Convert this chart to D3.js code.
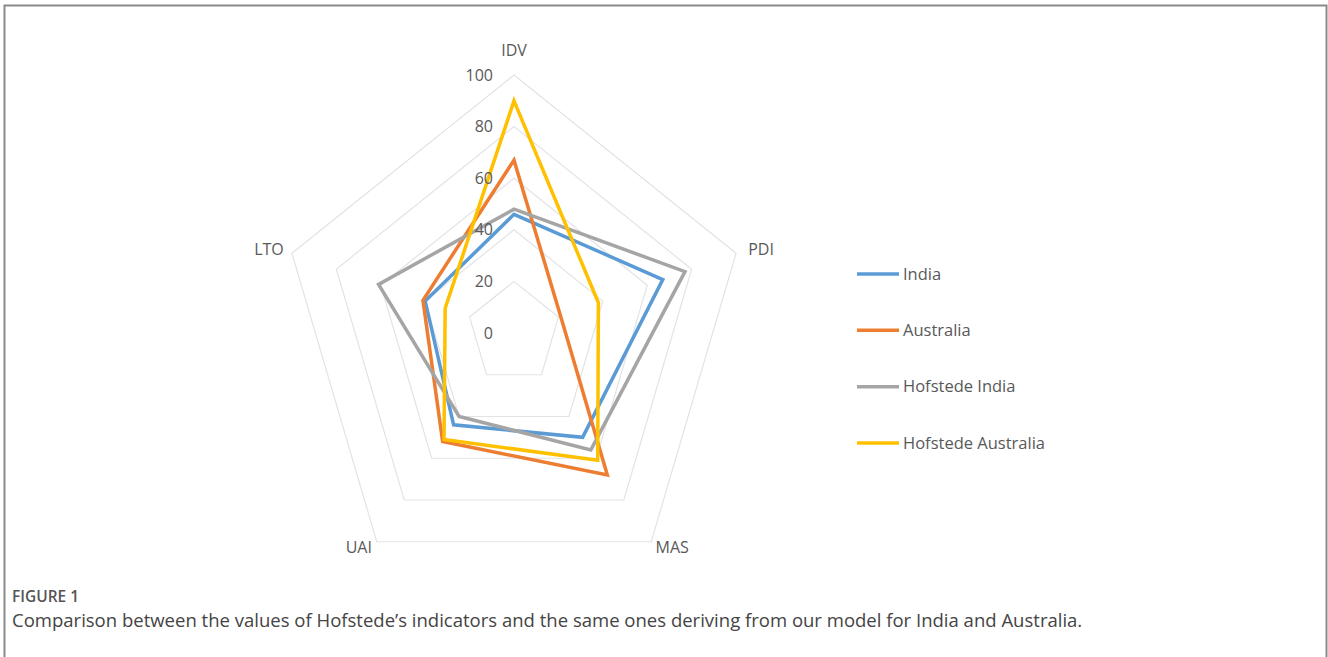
<!DOCTYPE html>
<html>
<head>
<meta charset="utf-8">
<script src="https://cdn.jsdelivr.net/npm/d3@7"></script>
<style>
  html, body { margin: 0; padding: 0; background: #fff; }
  svg { display: block; }
  text { font-family: "Open Sans", "Noto Sans", sans-serif; }
</style>
</head>
<body>
<svg id="chart" width="1328" height="657"></svg>
<script>
// ---- data ----
const axes = ["IDV", "PDI", "MAS", "UAI", "LTO"];
const seriesNames = ["India", "Australia", "Hofstede India", "Hofstede Australia"];
const india = [46, 67, 50, 44, 40];
const australia = [67, 21, 68, 52, 41];
const hofstedeIndia = [48, 77, 56, 40, 61];
const hofstedeAustralia = [90, 38, 61, 51, 31];
const tickValues = [0, 20, 40, 60, 80, 100];
const ringValues = [20, 40, 60, 80, 100];
const captionLabel = "FIGURE 1";
const captionText = "Comparison between the values of Hofstede\u2019s indicators and the same ones deriving from our model for India and Australia.";

const seriesValues = [india, australia, hofstedeIndia, hofstedeAustralia];
const colors = ["#5B9BD5", "#ED7D31", "#A5A5A5", "#FFC000"];

// ---- layout ----
const svg = d3.select("#chart");
const cx = 514, cy = 333;
const xAspect = 0.905;
const r = d3.scaleLinear().domain([0, 100]).range([0, 258]);
const angle = d3.scaleLinear().domain([0, axes.length]).range([0, 2 * Math.PI]);

function pt(i, v) {
  const a = angle(i);
  return [cx + Math.sin(a) * r(v) * xAspect, cy - Math.cos(a) * r(v)];
}

// frame
svg.append("rect")
  .attr("x", 4.5).attr("y", 5.5)
  .attr("width", 1322).attr("height", 720)
  .attr("fill", "none").attr("stroke", "#8a8a8a").attr("stroke-width", 2);

// grid rings
const line = d3.line().curve(d3.curveLinearClosed);
svg.append("g").selectAll("path")
  .data(ringValues)
  .join("path")
  .attr("d", v => line(axes.map((_, i) => pt(i, v))))
  .attr("fill", "none")
  .attr("stroke", "#e3e3e6")
  .attr("stroke-width", 1.2);

// series
svg.append("g").selectAll("path")
  .data(seriesValues)
  .join("path")
  .attr("d", vals => line(vals.map((v, i) => pt(i, v))))
  .attr("fill", "none")
  .attr("stroke", (d, i) => colors[i])
  .attr("stroke-width", 3.5)
  .attr("stroke-linejoin", "miter");

// tick labels
svg.append("g").selectAll("text")
  .data(tickValues)
  .join("text")
  .attr("x", cx - 21)
  .attr("y", v => cy - r(v))
  .attr("dy", "0.35em")
  .attr("text-anchor", "end")
  .attr("font-size", 16)
  .attr("fill", "#595959")
  .text(v => v);

// axis labels
const labelOffsets = [[0, -25], [25, -4], [21, 6], [-18, 6], [-23, -4]];
svg.append("g").selectAll("text")
  .data(axes)
  .join("text")
  .attr("x", (d, i) => pt(i, 100)[0] + labelOffsets[i][0])
  .attr("y", (d, i) => pt(i, 100)[1] + labelOffsets[i][1])
  .attr("dy", "0.35em")
  .attr("text-anchor", "middle")
  .attr("font-size", 16)
  .attr("fill", "#595959")
  .text(d => d);

// legend
const legendY = d3.scalePoint().domain(seriesNames).range([274, 443]);
const lg = svg.append("g").selectAll("g")
  .data(seriesNames)
  .join("g")
  .attr("transform", d => `translate(857,${legendY(d)})`);
lg.append("line")
  .attr("x1", 0).attr("x2", 42)
  .attr("stroke", (d, i) => colors[i])
  .attr("stroke-width", 3.5);
lg.append("text")
  .attr("x", 46)
  .attr("dy", "0.35em")
  .attr("font-size", 16.5)
  .attr("fill", "#595959")
  .text(d => d);

// caption
const fig = svg.append("text")
  .attr("x", 12).attr("y", 602)
  .attr("font-size", 12)
  .attr("font-weight", 600)
  .attr("fill", "#555")
  .text(captionLabel);
const cap = svg.append("text")
  .attr("x", 12).attr("y", 627)
  .attr("font-size", 16)
  .attr("fill", "#444")
  .text(captionText);
// fit caption widths to the reference
function fit(sel, target) {
  const w = sel.node().getComputedTextLength();
  const fs = +sel.attr("font-size");
  sel.attr("font-size", (fs * target / w).toFixed(2));
}
fit(cap, 1071);
fit(fig, 67);
</script>
</body>
</html>
